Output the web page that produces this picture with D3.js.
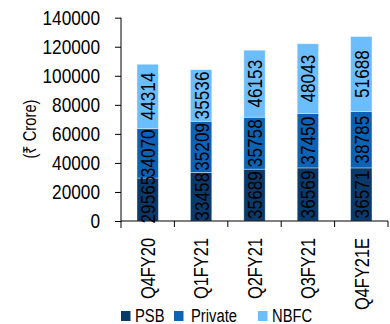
<!DOCTYPE html>
<html><head><meta charset="utf-8">
<script src="https://cdn.jsdelivr.net/npm/d3@7"></script>
<style>
html,body{margin:0;padding:0;background:#fff;}
text{font-family:"Liberation Sans",Arial,sans-serif;fill:#000;}
</style></head>
<body><svg id="c" width="390" height="324"></svg>
<script>
const categories = ["Q4FY20","Q1FY21","Q2FY21","Q3FY21","Q4FY21E"];
const seriesNames = ["PSB","Private","NBFC"];
const psb = [29565,33458,35689,36569,36571];
const privateB = [34070,35209,35758,37450,38785];
const nbfc = [44314,35536,46153,48043,51688];
const yTicks = [0,20000,40000,60000,80000,100000,120000,140000];
const colors = ["#093a6c","#0d63b3","#6cbdfb"];
const yTitle = "(₹ Crore)";

(function(){
const series = [psb, privateB, nbfc];
const svg = d3.select("#c");
const mL = 121, mR = 388, mT = 17.7, mB = 221;
const NARROW = 0.82;

const x = d3.scaleBand().domain(categories).range([mL,mR]).paddingInner(0.6).paddingOuter(0.3);
const y = d3.scaleLinear().domain([0,140000]).range([mB,mT]);

const rows = categories.map((c,i)=>{const o={cat:c}; seriesNames.forEach((s,j)=>o[s]=series[j][i]); return o;});
const stacked = d3.stack().keys(seriesNames)(rows);

const g = svg.append("g");
stacked.forEach((layer,j)=>{
  g.append("g").selectAll("rect").data(layer).join("rect")
    .attr("x",d=>x(d.data.cat)).attr("width",x.bandwidth())
    .attr("y",d=>y(d[1])).attr("height",d=>y(d[0])-y(d[1]))
    .attr("fill",colors[j]).attr("stroke","#fff").attr("stroke-opacity",0.45).attr("stroke-width",0.8);
});
stacked.forEach((layer,j)=>{
  g.append("g").selectAll("text").data(layer).join("text")
    .attr("transform",d=>`translate(${x(d.data.cat)+x.bandwidth()/2},${(y(d[0])+y(d[1]))/2}) rotate(-90)`)
    .attr("text-anchor","middle").attr("dy","0.36em")
    .style("font-size","21px")
    .text(d=>d.data[seriesNames[j]]);
});

// y axis
const ya = svg.append("g").attr("transform",`translate(${mL},0)`)
  .call(d3.axisLeft(y).tickValues(yTicks).tickSize(6).tickPadding(15).tickFormat(d3.format("d")));
ya.attr("font-family",null).attr("font-size",null);
ya.select(".domain").attr("d",`M0,${mT}V${mB+7}`).attr("stroke","#000");
ya.selectAll(".tick line").attr("stroke","#000");
ya.selectAll("text").style("font-size","21px").attr("fill","#000");

// x axis
const xa = svg.append("g");
xa.append("line").attr("x1",mL).attr("x2",mR).attr("y1",mB).attr("y2",mB).attr("stroke","#000");
const bounds = categories.map(c=>x(c)-x.step()*x.paddingInner()/2).concat([mR]);
xa.selectAll("line.t").data(bounds.slice(1)).join("line").attr("class","t")
  .attr("x1",d=>d).attr("x2",d=>d).attr("y1",mB).attr("y2",mB+6).attr("stroke","#000");
xa.selectAll("text").data(categories).join("text")
  .attr("transform",d=>`translate(${x(d)+x.bandwidth()/2},238) rotate(-90)`)
  .attr("text-anchor","end").attr("dy","0.36em").style("font-size","20px").text(d=>d);

// y title
svg.append("text").attr("transform","translate(30,129) rotate(-90)")
  .attr("text-anchor","middle").attr("dy","0.36em").style("font-size","18px").text(yTitle);

// legend
const legX = [121,174,258];
const lg = svg.append("g");
seriesNames.forEach((s,i)=>{
  lg.append("rect").attr("x",legX[i]).attr("y",311).attr("width",9.5).attr("height",10).attr("fill",colors[i]);
  lg.append("text").attr("x",legX[i]+14 + (i===1?3:0)).attr("y",321.5).style("font-size","18px").text(s);
});

// condense all text (narrow typeface look)
svg.selectAll("text").each(function(){
  const L = this.getComputedTextLength();
  if (L>0) d3.select(this).attr("textLength", L*NARROW).attr("lengthAdjust","spacingAndGlyphs");
});
})();
</script></body></html>
